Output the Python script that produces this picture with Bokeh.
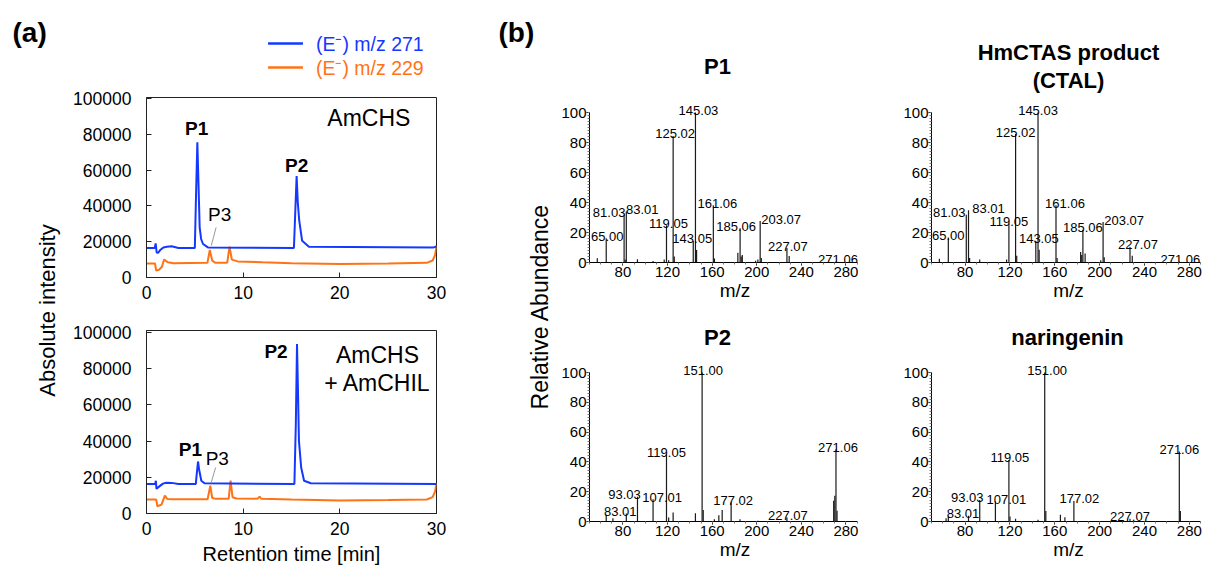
import math
from bokeh.plotting import figure
from bokeh.layouts import row, column
from bokeh.models import (ColumnDataSource, Range1d, Label, FixedTicker, NumeralTickFormatter)
from bokeh.core.properties import value
from bokeh.embed import file_html
from bokeh.resources import INLINE

FONT = "Liberation Sans"
BLUE = "#1438ff"
ORANGE = "#ff7316"
INK = "#1a1a1a"

# ---------------- data ----------------
series_labels = ["(E\u207b) m/z 271", "(E\u207b) m/z 229"]
chrom_xticks = [0, 10, 20, 30]
chrom_yticks = [0, 20000, 40000, 60000, 80000, 100000]
ms_xticks = [80, 120, 160, 200, 240, 280]
ms_yticks = [0, 20, 40, 60, 80, 100]

# AmCHS chromatogram (retention time [min], absolute intensity)
top_blue_t = [0, 0.85, 0.95, 1.05, 1.2, 1.45, 1.75, 2.1, 2.6, 3.3, 5.0, 5.12, 5.26, 5.38, 5.5,
              5.65, 5.85, 6.35, 15.25, 15.4, 15.53, 15.65, 15.8, 16.1, 16.8, 29.7, 30]
top_blue_i = [16500, 16500, 19000, 14000, 13800, 15500, 16800, 17200, 17400, 16500, 16500, 45000,
              75500, 52000, 28000, 21500, 18700, 16800, 16500, 38000, 56700, 42000, 31700, 20500,
              17200, 16800, 17300]
top_orange_t = [0, 0.88, 1.0, 1.3, 1.6, 1.82, 2.2, 2.8, 6.3, 6.55, 6.8, 7.1, 8.35, 8.59, 8.83,
                9.45, 12, 15, 20, 25, 29.0, 29.6, 29.85, 30]
top_orange_i = [7800, 7800, 3900, 4300, 6000, 10000, 8500, 8000, 8200, 15400, 9400, 8300, 8300,
                17200, 10000, 9000, 8500, 8000, 7500, 7800, 8200, 9500, 12500, 17800]

# AmCHS + AmCHIL chromatogram
bot_blue_t = [0, 0.9, 0.97, 1.03, 1.2, 1.7, 2.06, 2.6, 3.3, 5.1, 5.2, 5.33, 5.45, 5.67, 6.0,
              15.3, 15.45, 15.57, 15.68, 15.77, 16.0, 16.3, 17.0, 30]
bot_blue_i = [16300, 16300, 18100, 13600, 14400, 16500, 17000, 16900, 16300, 16300, 22000, 28700,
              24000, 18100, 16700, 16300, 50000, 93600, 65000, 40100, 25400, 18100, 16700, 16300]
bot_orange_t = [0, 1.0, 1.13, 1.55, 1.9, 2.15, 2.8, 6.32, 6.6, 6.8, 7.1, 8.5, 8.7, 8.9, 9.3,
                11.5, 11.7, 11.9, 15, 20, 25, 29.0, 29.6, 29.85, 30]
bot_orange_i = [7700, 7700, 4000, 4900, 9900, 8000, 7800, 7900, 15400, 8600, 8200, 8200, 18100,
                9000, 8300, 8200, 9300, 8100, 7700, 7200, 7400, 7700, 9000, 12000, 16700]

# MS/MS spectra (m/z, relative abundance %)
p1_lab_mz = [65.00, 81.03, 83.01, 119.05, 125.02, 143.05, 145.03, 161.06, 185.06, 203.07, 227.07, 271.06]
p1_lab_int = [16.2, 31.8, 34.0, 24.9, 84.4, 14.4, 100, 38.2, 22.9, 27.6, 9.6, 0.6]
p1_minor_mz = [57, 82, 93, 107, 117, 121, 126.02, 146.03, 162.06, 183.05, 186.06, 187.04, 199, 201, 204.07, 229.08]
p1_minor_int = [2.9, 2, 2.2, 1, 2, 1.5, 4, 8.3, 2.7, 6.5, 4, 5, 1.2, 2, 3, 4.4]

hm_lab_mz = [65.00, 81.03, 83.01, 119.05, 125.02, 143.05, 145.03, 161.06, 185.06, 203.07, 227.07, 271.06]
hm_lab_int = [16.7, 31.8, 34.9, 26.0, 85.6, 14.4, 100, 38.2, 21.8, 27.0, 10.4, 0.6]
hm_minor_mz = [57, 84, 93, 117, 126.02, 146.03, 162.06, 183.05, 184, 187.04, 201, 204.07, 229.08]
hm_minor_int = [2.5, 3, 2, 2, 4.5, 8.5, 3, 7, 5, 6, 1.5, 3.5, 4.5]

p2_lab_mz = [83.01, 93.03, 107.01, 119.05, 151.00, 177.02, 227.07, 271.06]
p2_lab_int = [5.4, 16.6, 15.0, 45.2, 100, 12.8, 2.7, 48.5]
p2_minor_mz = [65, 71, 121, 125, 145, 152, 162, 166, 169, 185, 201, 269, 270, 272]
p2_minor_int = [4.5, 2.2, 2.7, 6, 5.6, 7.8, 1.5, 4.2, 7.8, 1.5, 0.5, 13.9, 17.2, 7.2]

nar_lab_mz = [83.01, 93.03, 107.01, 119.05, 151.00, 177.02, 227.07, 271.06]
nar_lab_int = [3.8, 14.5, 13.4, 41.3, 100, 13.8, 1.8, 46.9]
nar_minor_mz = [63, 65, 120, 125, 145, 152, 165, 169, 272]
nar_minor_int = [2.2, 3.3, 3.3, 1.8, 1.1, 7.1, 4.5, 2.9, 7.1]

# label nudges (pixels) - styling only
p1_dx = [1, -15, 16, 2, 2, -1, 3, 4, -4, 21, 1, 2]
hm_dx = [0, -17, 20, 0, 0, 3, 0, 9, 0, 21, 8, 1]
p2_dx = [-6, -13, 9, 0, 1, 2, 1, 2]
nar_dx = [-5.5, -12.5, 11, 1, 2.5, 5.5, 0, 0]


# ---------------- helpers ----------------
def blank(w, h, left=0, right=0):
    p = figure(width=w, height=h, x_range=Range1d(0, w - left - right), y_range=Range1d(0, h),
               x_axis_location=None, y_axis_location=None, output_backend="svg",
               toolbar_location=None, min_border=0, min_border_left=left,
               min_border_right=right, min_border_top=0, min_border_bottom=0)
    p.grid.visible = False
    p.outline_line_color = None
    return p


def lab(p, x, y, text, size, bold=False, angle=0.0, align="center", color="black"):
    p.add_layout(Label(x=x, y=y, text=text, text_font=FONT, text_font_size=size,
                       text_font_style="bold" if bold else "normal", angle=angle,
                       text_align=align, text_baseline="middle", text_color=color))


def chrom(height, top, bottom, ytop, bt, bi, ot, oi, xlabel):
    p = figure(width=425, height=height, x_range=Range1d(0, 30), y_range=Range1d(0, ytop),
               output_backend="svg", toolbar_location=None,
               min_border_left=75, min_border_right=59, min_border_top=top,
               min_border_bottom=bottom)
    p.grid.visible = False
    p.outline_line_color = "#222222"
    p.line(ot, oi, line_color=ORANGE, line_width=2)
    p.line(bt, bi, line_color=BLUE, line_width=2)
    p.xaxis.ticker = FixedTicker(ticks=chrom_xticks)
    p.yaxis.ticker = FixedTicker(ticks=chrom_yticks)
    p.yaxis.formatter = NumeralTickFormatter(format="0")
    for ax in (p.xaxis[0], p.yaxis[0]):
        ax.axis_line_color = "#222222"
        ax.major_tick_in = 5
        ax.major_tick_out = 0
        ax.major_tick_line_color = "#222222"
        ax.minor_tick_line_color = None
        ax.major_label_text_font = FONT
        ax.major_label_text_font_size = "17.5px"
        ax.major_label_text_color = "black"
    p.yaxis.major_label_standoff = 15
    p.xaxis.major_label_standoff = 8
    if xlabel:
        p.xaxis.axis_label = xlabel
        p.xaxis.axis_label_text_font = FONT
        p.xaxis.axis_label_text_font_size = "20px"
        p.xaxis.axis_label_text_font_style = "normal"
        p.xaxis.axis_label_standoff = 5
        p.xaxis.axis_label_text_color = "black"
    return p


def ms(width, height, left, top, bottom, xend, ytop, lab_mz, lab_int, minor_mz, minor_int, dx,
       titles):
    p = figure(width=width, height=height, x_range=Range1d(50, xend), y_range=Range1d(0, ytop),
               output_backend="svg", toolbar_location=None,
               min_border_left=left, min_border_right=0, min_border_top=top,
               min_border_bottom=bottom)
    p.grid.visible = False
    p.outline_line_color = None
    mz_all = list(lab_mz) + list(minor_mz)
    in_all = list(lab_int) + list(minor_int)
    src = ColumnDataSource(dict(x=mz_all, top=in_all, base=[0] * len(mz_all)))
    p.segment(x0="x", y0="base", x1="x", y1="top", source=src, line_color=INK, line_width=1.2)
    lsrc = ColumnDataSource(dict(x=lab_mz, y=lab_int, dx=dx,
                                 text=["%.2f" % m for m in lab_mz]))
    p.text(x="x", y="y", text="text", x_offset="dx", y_offset=-2, source=lsrc,
           text_align="center", text_baseline="alphabetic", text_font=value(FONT),
           text_font_size="13px", text_color="black")
    for (tx, ty, tt) in titles:
        lab(p, tx, ty, tt, "22px", bold=True)
    xa, ya = p.xaxis[0], p.yaxis[0]
    xa.bounds = (50, 290)
    ya.bounds = (0, 100)
    xa.ticker = FixedTicker(ticks=ms_xticks, minor_ticks=list(range(50, 291, 10)))
    ya.ticker = FixedTicker(ticks=ms_yticks, minor_ticks=list(range(0, 101, 2)))
    for ax in (xa, ya):
        ax.axis_line_color = "black"
        ax.major_tick_out = 3
        ax.major_tick_in = 0
        ax.minor_tick_out = 2
        ax.minor_tick_in = 0
        ax.minor_tick_line_color = "#777777"
        ax.major_label_text_font = FONT
        ax.major_label_text_font_size = "15px"
        ax.major_label_text_color = "black"
    ya.major_label_standoff = 0
    xa.major_label_standoff = 1
    xa.axis_label = "m/z"
    xa.axis_label_text_font = FONT
    xa.axis_label_text_font_size = "19px"
    xa.axis_label_text_font_style = "normal"
    xa.axis_label_standoff = 0
    xa.axis_label_text_color = "black"
    return p


H = 577

# ---------------- left strip ----------------
strip1 = blank(70, H)
lab(strip1, 12, 545, "(a)", "28px", bold=True, align="left")
lab(strip1, 47, 267, "Absolute intensity", "22px", angle=math.pi / 2)

# ---------------- chromatograms ----------------
header = blank(425, 90, left=75, right=59)   # frame spans page x 145..436
for ly, text, col in ((47, series_labels[0], BLUE), (23, series_labels[1], ORANGE)):
    header.segment(x0=[122], y0=[ly], x1=[157], y1=[ly], line_color=col, line_width=2.5)
    lab(header, 170, ly, text, "19.5px", align="left", color=col)

fig_top = chrom(222, 7, 35, 100500, top_blue_t, top_blue_i, top_orange_t, top_orange_i, None)
lab(fig_top, 5.19, 83000, "P1", "19px", bold=True)
lab(fig_top, 15.53, 62600, "P2", "19px", bold=True)
lab(fig_top, 7.56, 35400, "P3", "19px")
lab(fig_top, 23.0, 89000, "AmCHS", "23px")
fig_top.line([7.2, 6.7], [27900, 17800], line_color="#999999", line_width=1)

fig_bot = chrom(265, 18, 64, 101000, bot_blue_t, bot_blue_i, bot_orange_t, bot_orange_i,
                "Retention time [min]")
lab(fig_bot, 13.4, 89600, "P2", "19px", bold=True)
lab(fig_bot, 4.54, 35500, "P1", "19px", bold=True)
lab(fig_bot, 7.32, 30100, "P3", "19px")
lab(fig_bot, 23.9, 87700, "AmCHS", "23px")
lab(fig_bot, 23.9, 72100, "+ AmCHIL", "23px")
fig_bot.line([7.15, 6.7], [25400, 17200], line_color="#999999", line_width=1)

# ---------------- middle strip ----------------
strip2 = blank(58, H)
lab(strip2, 3, 545, "(b)", "28px", bold=True, align="left")
lab(strip2, 44, 271, "Relative Abundance", "23px", angle=math.pi / 2)

# ---------------- spectra ----------------
ms1 = ms(327, 310, 36, 5, 48, 50 + 291 / 1.115, 257 / 1.5, p1_lab_mz, p1_lab_int, p1_minor_mz,
         p1_minor_int, p1_dx, [(164.8, 130.8, "P1")])
ms2 = ms(325, 310, 51, 5, 48, 50 + 274 / 1.121, 257 / 1.5, hm_lab_mz, hm_lab_int, hm_minor_mz,
         hm_minor_int, hm_dx, [(172.2, 140.0, "HmCTAS product"), (172.2, 121.5, "(CTAL)")])
ms3 = ms(327, 267, 36, 5, 56, 50 + 291 / 1.115, 206 / 1.49, p2_lab_mz, p2_lab_int, p2_minor_mz,
         p2_minor_int, p2_dx, [(164.8, 123.3, "P2")])
ms4 = ms(325, 267, 51, 5, 56, 50 + 274 / 1.121, 206 / 1.49, nar_lab_mz, nar_lab_int, nar_minor_mz,
         nar_minor_int, nar_dx, [(171.3, 123.5, "naringenin")])

layout = row(strip1, column(header, fig_top, fig_bot), strip2,
             column(row(ms1, ms2), row(ms3, ms4)))

open("out.html", "w").write(file_html(layout, INLINE))
